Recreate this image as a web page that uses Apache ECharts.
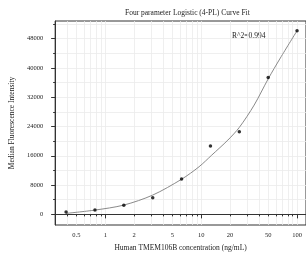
<!DOCTYPE html>
<html>
<head>
<meta charset="utf-8">
<script src="https://cdn.jsdelivr.net/npm/echarts@6/dist/echarts.min.js"></script>
<style>
  html, body { margin: 0; padding: 0; background: #fff; }
  #chart { width: 306px; height: 262px; }
</style>
</head>
<body>
<div id="chart"></div>
<script>
// standards: 2-fold dilution series (ng/mL)
const concentrations = [0.39, 0.78, 1.56, 3.125, 6.25, 12.5, 25, 50, 100]
const measured = [650, 1170, 2460, 4550, 9640, 18650, 22550, 37400, 50130]
// fitted 4-PL curve
const fitConc = [0.39, 0.78, 1.56, 3.125, 6.25, 9.5, 12.9, 19, 25, 35.7, 50, 67, 100]
const fitValues = [270, 1170, 2540, 5270, 9600, 13000, 16190, 20290, 23750, 29840, 37000, 42700, 50130]

const xLabelValues = [0.5, 1, 2, 5, 10, 20, 50, 100]
const xMajorTicks = [1, 10, 100]
const xMinorTicks = [0.3, 0.4, 0.5, 0.6, 0.7, 0.8, 0.9, 1, 2, 3, 4, 5, 6, 7, 8, 9, 10,
  20, 30, 40, 50, 60, 70, 80, 90, 100]
const yLabelValues = [0, 8000, 16000, 24000, 32000, 40000, 48000]
const yMinorTicks = [0, 4000, 8000, 12000, 16000, 20000, 24000, 28000, 32000, 36000,
  40000, 44000, 48000, 52000]

const chart = echarts.init(document.getElementById('chart'))
const font = 'Liberation Serif'
const axisColor = '#333'
const gridColor = '#ebebeb'

const xRange = { min: 0.3, max: 124 }
const yRange = { min: -2900, max: 52800 }

chart.setOption({
  animation: false,
  backgroundColor: '#fff',
  title: {
    text: 'Four parameter Logistic (4-PL) Curve Fit',
    left: 120,
    top: 4,
    textStyle: { fontFamily: font, fontSize: 7.5, fontWeight: 'normal', color: '#222' }
  },
  grid: {
    left: 53, right: -4, top: 21, bottom: 37,
    show: true, borderColor: axisColor, borderWidth: 1
  },
  graphic: [{
    type: 'text',
    left: 232, top: 32,
    style: { text: 'R^2=0.994', font: '7.5px "Liberation Serif"', fill: '#222' }
  }],
  xAxis: [
    {
      type: 'log', logBase: 10, ...xRange,
      position: 'bottom',
      name: 'Human TMEM106B concentration (ng/mL)',
      nameLocation: 'middle', nameGap: 17,
      nameTextStyle: { fontFamily: font, fontSize: 7.5, color: '#222' },
      axisLine: { lineStyle: { color: axisColor } },
      axisTick: { customValues: xMinorTicks, length: 2, lineStyle: { color: axisColor } },
      axisLabel: {
        customValues: xLabelValues, margin: 7,
        fontFamily: font, fontSize: 6.5, color: '#222',
        formatter: v => String(v)
      },
      splitLine: { show: true, lineStyle: { color: gridColor, width: 0.8 } }
    },
    {
      type: 'log', logBase: 10, ...xRange,
      position: 'bottom', offset: 0,
      axisLine: { show: false },
      axisTick: { customValues: xMajorTicks, length: 4, lineStyle: { color: axisColor } },
      axisLabel: { show: false },
      splitLine: { show: false }
    }
  ],
  yAxis: [
    {
      type: 'value', ...yRange,
      position: 'left',
      name: 'Median Fluorescence Intensity',
      nameLocation: 'middle', nameGap: 35,
      nameTextStyle: { fontFamily: font, fontSize: 7.5, color: '#222' },
      axisLine: { show: true, lineStyle: { color: axisColor } },
      axisTick: { show: true, customValues: yMinorTicks, length: 2, lineStyle: { color: axisColor } },
      axisLabel: {
        customValues: yLabelValues, margin: 12,
        fontFamily: font, fontSize: 6.5, color: '#222',
        formatter: v => String(v)
      },
      splitLine: { show: true, lineStyle: { color: gridColor, width: 0.8 } }
    },
    {
      type: 'value', ...yRange,
      position: 'left', offset: 0,
      axisLine: { show: false },
      axisTick: { show: true, customValues: yLabelValues, length: 4, lineStyle: { color: axisColor } },
      axisLabel: { show: false },
      splitLine: { show: false }
    }
  ],
  series: [
    {
      type: 'line',
      data: fitConc.map((c, i) => [c, fitValues[i]]),
      smooth: 0.3,
      showSymbol: false,
      lineStyle: { color: '#8a8a8a', width: 1 },
      z: 2
    },
    {
      type: 'scatter',
      data: concentrations.map((c, i) => [c, measured[i]]),
      symbolSize: 3.5,
      itemStyle: { color: '#000' },
      z: 3
    }
  ]
})
</script>
</body>
</html>
